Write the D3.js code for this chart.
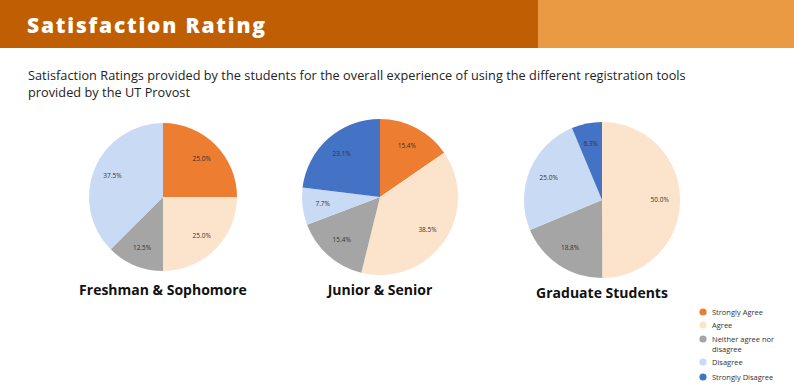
<!DOCTYPE html>
<html>
<head>
<meta charset="utf-8">
<script src="https://cdn.jsdelivr.net/npm/d3@7"></script>
<style>
  body { margin: 0; background: #fff; }
  svg { display: block; font-family: "Open Sans", sans-serif; }
</style>
</head>
<body>
<svg width="794" height="389"></svg>
<script>
// rating categories in clockwise order from 12 o'clock
var categories = ["Strongly Agree", "Agree", "Neither agree nor disagree", "Disagree", "Strongly Disagree"];
var colors = ["#ED7D31", "#FCE4CC", "#A5A5A5", "#C9DAF5", "#4472C4"];

var groups = ["Freshman & Sophomore", "Junior & Senior", "Graduate Students"];
var freshmanSophomore = [25.0, 25.0, 12.5, 37.5, 0];
var juniorSenior = [15.4, 38.5, 15.4, 7.7, 23.1];
var graduateStudents = [0, 50.0, 18.8, 25.0, 6.3];

var title = "Satisfaction Rating";
var subtitle = ["Satisfaction Ratings provided by the students for the overall experience of using the different registration tools",
                "provided by the UT Provost"];

var svg = d3.select("svg");

// header band
svg.append("rect").attr("x", 0).attr("y", 0).attr("width", 538).attr("height", 48).attr("fill", "#C05E04");
svg.append("rect").attr("x", 538).attr("y", 0).attr("width", 256).attr("height", 48).attr("fill", "#E99A42");
svg.append("text")
   .attr("x", 27).attr("y", 33)
   .attr("fill", "#fff")
   .attr("font-size", 21)
   .attr("font-weight", 800)
   .attr("letter-spacing", 1.8)
   .text(title);

svg.selectAll(".sub")
   .data(subtitle)
   .enter().append("text")
   .attr("class", "sub")
   .attr("x", 28)
   .attr("y", function(d, i) { return 80 + i * 17; })
   .attr("fill", "#222")
   .attr("font-size", 12.7)
   .attr("letter-spacing", 0.05)
   .text(function(d) { return d; });

var color = d3.scaleOrdinal().domain(categories).range(colors);

var pie = d3.pie().sort(null).value(function(d) { return d.value; });

var charts = [
    { name: groups[0], values: freshmanSophomore, cx: 163, cy: 197, r: 74, ly: 295 },
    { name: groups[1], values: juniorSenior, cx: 380, cy: 197, r: 78, ly: 295 },
    { name: groups[2], values: graduateStudents, cx: 602, cy: 200, r: 78, ly: 298 }
];

charts.forEach(function(c) {
    var data = categories.map(function(k, i) { return { key: k, value: c.values[i] }; });
    var arc = d3.arc().innerRadius(0).outerRadius(c.r);
    var labelArc = d3.arc().innerRadius(c.r * 0.74).outerRadius(c.r * 0.74);

    var g = svg.append("g").attr("transform", "translate(" + c.cx + "," + c.cy + ")");
    var arcs = pie(data).filter(function(d) { return d.data.value > 0; });

    g.selectAll("path")
     .data(arcs)
     .enter().append("path")
     .attr("d", arc)
     .attr("fill", function(d) { return color(d.data.key); });

    g.selectAll("text")
     .data(arcs)
     .enter().append("text")
     .attr("transform", function(d) { return "translate(" + labelArc.centroid(d) + ")"; })
     .attr("text-anchor", "middle")
     .attr("dy", "0.35em")
     .attr("font-size", 6.5)
     .attr("fill", "#333")
     .text(function(d) { return d.data.value.toFixed(1) + "%"; });

    svg.append("text")
       .attr("x", c.cx).attr("y", c.ly)
       .attr("text-anchor", "middle")
       .attr("font-size", 14)
       .attr("font-weight", 700)
       .attr("fill", "#111")
       .text(c.name);
});

// legend
var legendLines = [["Strongly Agree"], ["Agree"], ["Neither agree nor", "disagree"], ["Disagree"], ["Strongly Disagree"]];
var legendY = [312, 325, 339, 362, 377];
var legend = svg.selectAll(".legend")
   .data(categories)
   .enter().append("g")
   .attr("class", "legend")
   .attr("transform", function(d, i) { return "translate(703," + legendY[i] + ")"; });

legend.append("circle").attr("r", 3.6).attr("fill", function(d) { return color(d); });
legend.each(function(d, i) {
    d3.select(this).selectAll("text")
      .data(legendLines[i])
      .enter().append("text")
      .attr("x", 9)
      .attr("y", function(t, j) { return j * 10; })
      .attr("dy", "0.35em")
      .attr("font-size", 7.5)
      .attr("fill", "#333")
      .text(function(t) { return t; });
});
</script>
</body>
</html>
